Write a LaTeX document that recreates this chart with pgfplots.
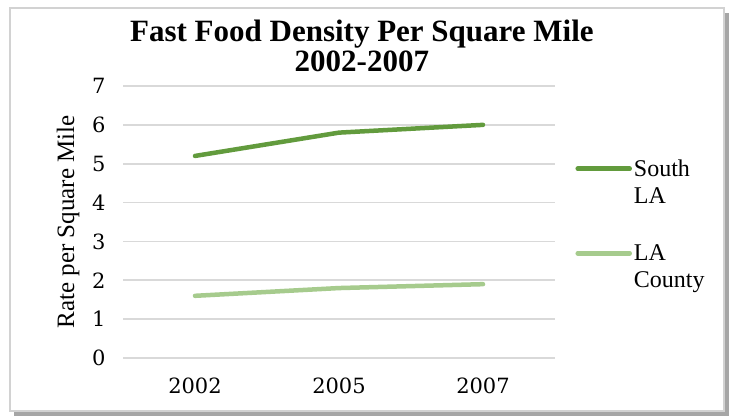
\documentclass[border=0pt]{standalone}
\usepackage{fontspec}
\setmainfont{Liberation Serif}
\newfontfamily\tickfont{DejaVu Serif}
\usepackage{pgfplots}
\pgfplotsset{compat=1.18}
\definecolor{southla}{HTML}{629B3D}
\definecolor{lacounty}{HTML}{A6CB8D}
\definecolor{gridc}{HTML}{D9D9D9}
\begin{document}
\begin{tikzpicture}[x=1pt,y=1pt]
\path[use as bounding box] (0,0) rectangle (731,420);
\fill[gray!70] (14,4) rectangle (729,407);
\fill[white,draw=gray!35,line width=2pt] (10,9) rectangle (724,412);
\begin{axis}[
  at={(123pt,62pt)}, anchor=south west,
  scale only axis, width=432pt, height=272pt,
  xmin=-0.5, xmax=2.5, ymin=0, ymax=7,
  xtick={0,1,2}, xticklabels={2002,2005,2007},
  ytick={0,1,...,7},
  axis line style={draw=none},
  major tick length=0pt,
  ymajorgrids, grid style={gridc, line width=1.6pt},
  /pgf/number format/assume math mode=true,
  tick label style={font=\tickfont\fontsize{21}{23}\selectfont},
  yticklabel style={xshift=-14pt},
  xticklabel style={yshift=-16pt},
  ylabel={Rate per Square Mile},
  every axis y label/.style={at={(axis description cs:-0.127,0.5)}, rotate=90, anchor=center, font=\fontsize{25}{27}\selectfont},
  title={Fast Food Density Per Square Mile\\2002-2007},
  title style={font=\bfseries\fontsize{31}{30}\selectfont, align=center, at={(axis description cs:0.553,1)}, anchor=south, yshift=5pt},
  legend style={draw=none, fill=none, at={(axis description cs:1.04,0.745)}, anchor=north west,
    font=\fontsize{24}{26}\selectfont, row sep=6pt,
    /tikz/every even column/.append style={column sep=0pt}},
  legend cell align=left,
  legend image code/.code={\draw[#1, line width=4.5pt, line cap=round] (0pt,0pt) -- (52pt,0pt);},
]
\addplot[southla, line width=4.5pt, line cap=round] coordinates {(0,5.2) (1,5.8) (2,6.0)};
\addlegendentry{South}
\addlegendimage{empty legend}
\addlegendentry{LA}
\addlegendimage{empty legend}
\addlegendentry{\strut}
\addplot[lacounty, line width=4.5pt, line cap=round] coordinates {(0,1.6) (1,1.8) (2,1.9)};
\addlegendentry{LA}
\addlegendimage{empty legend}
\addlegendentry{County}
\end{axis}
\end{tikzpicture}
\end{document}
